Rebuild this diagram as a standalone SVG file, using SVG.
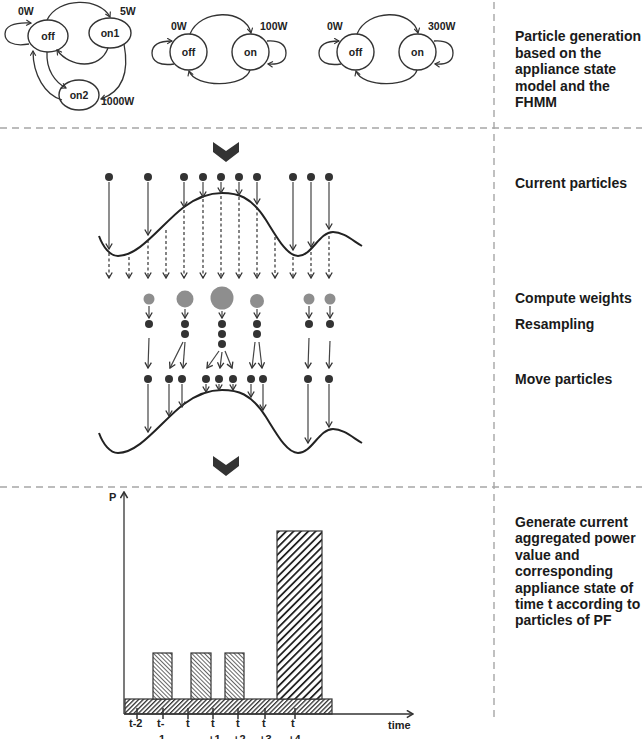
<svg xmlns="http://www.w3.org/2000/svg" width="642" height="739" viewBox="0 0 642 739">
<defs>
<style>
.st{fill:#fff;stroke:#333;stroke-width:1.4}
.lbl{font-family:"Liberation Sans",Arial,sans-serif;font-weight:bold;fill:#222}
.sl{font-size:10.5px;text-anchor:middle}
.wl{font-size:10.5px}
.rt{font-family:"Liberation Sans",Arial,sans-serif;font-weight:bold;font-size:14px;fill:#1a1a1a}
.ax{font-size:11px}
.edge{fill:none;stroke:#333;stroke-width:1.3;marker-end:url(#sarr)}
.ar{fill:none;stroke:#444;stroke-width:1.2;marker-end:url(#arr)}
.da{fill:none;stroke:#333;stroke-width:1.2;stroke-dasharray:3 2.5;marker-end:url(#arr)}
.dot{fill:#333}
.gdot{fill:#8e8e8e}
.curve{fill:none;stroke:#222;stroke-width:2}
.sep{fill:none;stroke:#a6a6a6;stroke-width:1.4;stroke-dasharray:7 5}
.chev{fill:#333}
</style>
<marker id="arr" viewBox="0 0 8 8" refX="7" refY="4" markerWidth="8" markerHeight="8" markerUnits="userSpaceOnUse" orient="auto">
<path d="M1.5,0.8 L7,4 L1.5,7.2" fill="none" stroke="#333" stroke-width="1.3"/>
</marker>
<marker id="sarr" viewBox="0 0 8 8" refX="7" refY="4" markerWidth="7" markerHeight="7" markerUnits="userSpaceOnUse" orient="auto">
<path d="M1.5,0.8 L7,4 L1.5,7.2" fill="none" stroke="#333" stroke-width="1.3"/>
</marker>
<marker id="axarr" viewBox="0 0 8 8" refX="7" refY="4" markerWidth="9" markerHeight="9" markerUnits="userSpaceOnUse" orient="auto">
<path d="M1.5,0.8 L7,4 L1.5,7.2" fill="none" stroke="#333" stroke-width="1.4"/>
</marker>
<pattern id="hBase" patternUnits="userSpaceOnUse" width="3.2" height="3.2" patternTransform="rotate(45)">
<rect width="3.2" height="3.2" fill="#fff"/><rect width="1.3" height="3.2" fill="#333"/>
</pattern>
<pattern id="hSmall" patternUnits="userSpaceOnUse" width="3" height="3" patternTransform="rotate(-45)">
<rect width="3" height="3" fill="#fff"/><rect width="0.9" height="3" fill="#555"/>
</pattern>
<pattern id="hBig" patternUnits="userSpaceOnUse" width="5.2" height="5.2" patternTransform="rotate(45)">
<rect width="5.2" height="5.2" fill="#fff"/><rect width="1.8" height="5.2" fill="#222"/>
</pattern>
<path id="wave" d="M99,236 C103,247 110,256 118,256 C140,256 162,223.5 184,207 C197,197.3 209,193 222,193 C237,193 251,196 266,220 C277,237.6 287,256 298,256 C312,256 319,232 333,232 C343,232 352,240 362,246"/>
</defs>
<rect width="642" height="739" fill="#fff"/>

<!-- separators -->
<g id="separators">
<line class="sep" x1="0" y1="128" x2="642" y2="128"/>
<line class="sep" x1="0" y1="487" x2="642" y2="487"/>
<line class="sep" x1="494" y1="2" x2="494" y2="720"/>
</g>

<!-- section 1: appliance state models -->
<g id="model1">
<g id="m1-off"><ellipse class="st" cx="48" cy="36" rx="20" ry="16"/><text class="lbl sl" x="48" y="40">off</text></g>
<g id="m1-on1"><ellipse class="st" cx="110" cy="33" rx="21" ry="15"/><text class="lbl sl" x="110" y="37">on1</text></g>
<g id="m1-on2"><ellipse class="st" cx="79" cy="95" rx="20" ry="15"/><text class="lbl sl" x="79" y="99">on2</text></g>
<text class="lbl wl" x="18" y="15">0W</text>
<text class="lbl wl" x="120" y="15">5W</text>
<text class="lbl wl" x="101" y="105">1000W</text>
</g>
<g id="model2">
<g id="m2-off"><ellipse class="st" cx="188.5" cy="52" rx="18.5" ry="18"/><text class="lbl sl" x="188.5" y="56">off</text></g>
<g id="m2-on"><ellipse class="st" cx="250.5" cy="52" rx="18.5" ry="18"/><text class="lbl sl" x="250.5" y="56">on</text></g>
<text class="lbl wl" x="171" y="30">0W</text>
<text class="lbl wl" x="260" y="30">100W</text>
</g>
<g id="model3">
<g id="m3-off"><ellipse class="st" cx="355.5" cy="52" rx="18.5" ry="18"/><text class="lbl sl" x="355.5" y="56">off</text></g>
<g id="m3-on"><ellipse class="st" cx="417.5" cy="52" rx="18.5" ry="18"/><text class="lbl sl" x="417.5" y="56">on</text></g>
<text class="lbl wl" x="327" y="30">0W</text>
<text class="lbl wl" x="428" y="30">300W</text>
</g>

<g id="model-edges">
<path class="edge" d="M29,44 C12,47 5,41 5,34 C5,27 12,22 31,23"/>
<path class="edge" d="M47,20 C58,-3 100,-3 110,17"/>
<path class="edge" d="M108,48 C100,70 70,68 57,50"/>
<path class="edge" d="M124,44 C128,65 127,90 101,99"/>
<path class="edge" d="M47,52 C46,70 55,82 66,88"/>
<path class="edge" d="M62,100 C45,95 33,75 33,51"/>
<path class="edge" d="M174,64 C160,66 152,62 152,53 C152,44 160,41 172,41"/>
<path class="edge" d="M190,34 C200,9 245,8 251,33"/>
<path class="edge" d="M250,70 C245,88 195,88 189,71"/>
<path class="edge" d="M267,41 C280,40 286,45 286,53 C286,61 280,65 268,64"/>
<path class="edge" d="M341,64 C327,66 319,62 319,53 C319,44 327,41 339,41"/>
<path class="edge" d="M357,34 C367,9 412,8 418,33"/>
<path class="edge" d="M417,70 C412,88 362,88 356,71"/>
<path class="edge" d="M434,41 C447,40 453,45 453,53 C453,61 447,65 435,64"/>
</g>

<!-- section 2: particle filter -->
<polygon class="chev" points="213,142 226,151 239,142 239,152 226,162 213,152"/>
<polygon class="chev" points="213,456 226,465 239,456 239,466 226,476 213,466"/>

<use href="#wave" class="curve"/>
<use href="#wave" class="curve" transform="translate(0,197)"/>

<g id="particles-current">
<circle class="dot" cx="109" cy="177" r="4"/>
<circle class="dot" cx="148" cy="177" r="4"/>
<circle class="dot" cx="184" cy="177" r="4"/>
<circle class="dot" cx="203" cy="177" r="4"/>
<circle class="dot" cx="221" cy="177" r="4"/>
<circle class="dot" cx="239" cy="177" r="4"/>
<circle class="dot" cx="257" cy="177" r="4"/>
<circle class="dot" cx="293" cy="177" r="4"/>
<circle class="dot" cx="311" cy="177" r="4"/>
<circle class="dot" cx="329" cy="177" r="4"/>
</g>

<g id="weights">
<circle class="gdot" cx="149" cy="299" r="5.5"/>
<circle class="gdot" cx="185" cy="299" r="8.5"/>
<circle class="gdot" cx="222" cy="298" r="11.5"/>
<circle class="gdot" cx="257" cy="301" r="7"/>
<circle class="gdot" cx="309" cy="299" r="5.5"/>
<circle class="gdot" cx="330" cy="299" r="5.5"/>
</g>

<g id="resampled">
<circle class="dot" cx="149" cy="324" r="4"/>
<circle class="dot" cx="185" cy="324" r="4"/>
<circle class="dot" cx="185" cy="334" r="4"/>
<circle class="dot" cx="222" cy="324" r="4"/>
<circle class="dot" cx="222" cy="334" r="4"/>
<circle class="dot" cx="222" cy="344" r="4"/>
<circle class="dot" cx="257" cy="324" r="4"/>
<circle class="dot" cx="257" cy="334" r="4"/>
<circle class="dot" cx="309" cy="324" r="4"/>
<circle class="dot" cx="330" cy="324" r="4"/>
</g>

<g id="moved">
<circle class="dot" cx="148" cy="379" r="4"/>
<circle class="dot" cx="169" cy="379" r="4"/>
<circle class="dot" cx="182" cy="379" r="4"/>
<circle class="dot" cx="206" cy="379" r="4"/>
<circle class="dot" cx="219" cy="379" r="4"/>
<circle class="dot" cx="233" cy="379" r="4"/>
<circle class="dot" cx="251" cy="379" r="4"/>
<circle class="dot" cx="263" cy="379" r="4"/>
<circle class="dot" cx="308" cy="379" r="4"/>
<circle class="dot" cx="329" cy="379" r="4"/>
</g>

<g id="particle-connectors">
<line class="ar" x1="109" y1="182" x2="109" y2="249"/>
<line class="ar" x1="148" y1="182" x2="148" y2="235"/>
<line class="ar" x1="184" y1="182" x2="184" y2="207"/>
<line class="ar" x1="203" y1="182" x2="203" y2="197"/>
<line class="ar" x1="221" y1="182" x2="221" y2="193"/>
<line class="ar" x1="239" y1="182" x2="239" y2="195"/>
<line class="ar" x1="257" y1="182" x2="257" y2="204"/>
<line class="ar" x1="293" y1="182" x2="293" y2="250"/>
<line class="ar" x1="311" y1="182" x2="311" y2="247"/>
<line class="ar" x1="329" y1="182" x2="329" y2="229"/>

<line class="da" x1="109" y1="253" x2="109" y2="278"/>
<line class="da" x1="129" y1="257" x2="129" y2="278"/>
<line class="da" x1="148" y1="240" x2="148" y2="278"/>
<line class="da" x1="166" y1="230" x2="166" y2="278"/>
<line class="da" x1="184" y1="210" x2="184" y2="278"/>
<line class="da" x1="203" y1="199" x2="203" y2="278"/>
<line class="da" x1="221" y1="196" x2="221" y2="278"/>
<line class="da" x1="239" y1="197" x2="239" y2="278"/>
<line class="da" x1="257" y1="207" x2="257" y2="278"/>
<line class="da" x1="275" y1="237" x2="275" y2="278"/>
<line class="da" x1="293" y1="257" x2="293" y2="278"/>
<line class="da" x1="311" y1="252" x2="311" y2="278"/>
<line class="da" x1="329" y1="236" x2="329" y2="278"/>

<line class="ar" x1="149" y1="306" x2="149" y2="318"/>
<line class="ar" x1="185" y1="309" x2="185" y2="318"/>
<line class="ar" x1="222" y1="311" x2="222" y2="318"/>
<line class="ar" x1="257" y1="309" x2="257" y2="318"/>
<line class="ar" x1="309" y1="306" x2="309" y2="318"/>
<line class="ar" x1="330" y1="306" x2="330" y2="318"/>

<line class="ar" x1="149" y1="338" x2="148" y2="368"/>
<line class="ar" x1="183" y1="342" x2="170" y2="368"/>
<line class="ar" x1="185" y1="342" x2="183" y2="368"/>
<line class="ar" x1="219" y1="351" x2="207" y2="368"/>
<line class="ar" x1="222" y1="352" x2="220" y2="368"/>
<line class="ar" x1="225" y1="351" x2="232" y2="368"/>
<line class="ar" x1="255" y1="342" x2="252" y2="368"/>
<line class="ar" x1="259" y1="342" x2="262" y2="368"/>
<line class="ar" x1="309" y1="338" x2="308" y2="368"/>
<line class="ar" x1="330" y1="341" x2="329" y2="368"/>

<line class="ar" x1="148" y1="384" x2="148" y2="432"/>
<line class="ar" x1="169" y1="384" x2="169" y2="416"/>
<line class="ar" x1="182" y1="384" x2="182" y2="407"/>
<line class="ar" x1="206" y1="384" x2="206" y2="392"/>
<line class="ar" x1="219" y1="384" x2="219" y2="390"/>
<line class="ar" x1="233" y1="384" x2="233" y2="390"/>
<line class="ar" x1="251" y1="384" x2="251" y2="397"/>
<line class="ar" x1="263" y1="384" x2="263" y2="410"/>
<line class="ar" x1="308" y1="384" x2="308" y2="443"/>
<line class="ar" x1="329" y1="384" x2="329" y2="427"/>
</g>

<!-- section 3: chart -->
<g id="chart">
<rect x="125" y="699" width="207" height="15" fill="url(#hBase)" stroke="#333" stroke-width="1.2"/>
<rect x="153" y="653" width="19" height="46" fill="url(#hSmall)" stroke="#333" stroke-width="1.2"/>
<rect x="191" y="653" width="20" height="46" fill="url(#hSmall)" stroke="#333" stroke-width="1.2"/>
<rect x="225" y="653" width="19" height="46" fill="url(#hSmall)" stroke="#333" stroke-width="1.2"/>
<rect x="277" y="531" width="45" height="168" fill="url(#hBig)" stroke="#333" stroke-width="1.2"/>
<line x1="124" y1="714" x2="124" y2="492" stroke="#333" stroke-width="1.3" marker-end="url(#axarr)"/>
<line x1="124" y1="714" x2="413" y2="714" stroke="#333" stroke-width="1.3" marker-end="url(#axarr)"/>
<g stroke="#333" stroke-width="1.5">
<line x1="137" y1="708" x2="137" y2="719"/>
<line x1="163" y1="708" x2="163" y2="719"/>
<line x1="188" y1="708" x2="188" y2="719"/>
<line x1="213" y1="708" x2="213" y2="719"/>
<line x1="238" y1="708" x2="238" y2="719"/>
<line x1="265" y1="708" x2="265" y2="719"/>
<line x1="295" y1="708" x2="295" y2="719"/>
</g>
<text class="lbl ax" x="109" y="501">P</text>
<text class="lbl ax" x="388" y="729">time</text>
<text class="lbl ax" x="129" y="727">t-2</text>
<text class="lbl ax" x="157" y="727">t-</text>
<text class="lbl ax" x="159" y="743">1</text>
<text class="lbl ax" x="186" y="727">t</text>
<text class="lbl ax" x="211" y="727">t</text>
<text class="lbl ax" x="208" y="743">+1</text>
<text class="lbl ax" x="236" y="727">t</text>
<text class="lbl ax" x="233" y="743">+2</text>
<text class="lbl ax" x="262" y="727">t</text>
<text class="lbl ax" x="259" y="743">+3</text>
<text class="lbl ax" x="291" y="727">t</text>
<text class="lbl ax" x="288" y="743">+4</text>
</g>

<!-- right-hand descriptions -->
<g id="descriptions">
<text class="rt" x="515" y="41">Particle generation</text>
<text class="rt" x="515" y="57.6">based on the</text>
<text class="rt" x="515" y="74.2">appliance state</text>
<text class="rt" x="515" y="90.8">model and the</text>
<text class="rt" x="515" y="107.4">FHMM</text>
<text class="rt" x="515" y="188">Current particles</text>
<text class="rt" x="515" y="303">Compute weights</text>
<text class="rt" x="515" y="329">Resampling</text>
<text class="rt" x="515" y="384">Move particles</text>
<text class="rt" x="515" y="527">Generate current</text>
<text class="rt" x="515" y="543.4">aggregated power</text>
<text class="rt" x="515" y="559.8">value and</text>
<text class="rt" x="515" y="576.2">corresponding</text>
<text class="rt" x="515" y="592.6">appliance state of</text>
<text class="rt" x="515" y="609">time t according to</text>
<text class="rt" x="515" y="625.4">particles of PF</text>
</g>
</svg>
